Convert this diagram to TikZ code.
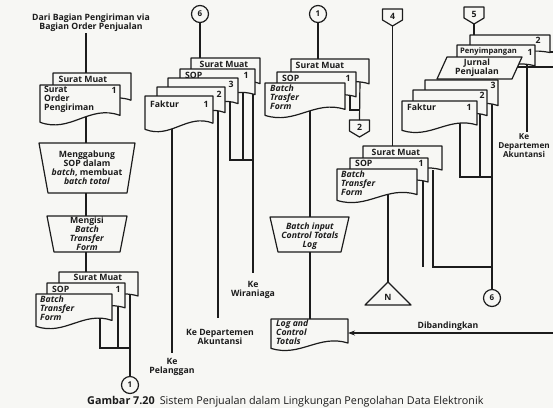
\documentclass[tikz,border=0pt]{standalone}
\usepackage{fontspec}
\setmainfont{Open Sans}
\usetikzlibrary{arrows.meta}

\definecolor{ink}{HTML}{1C1C1C}
\definecolor{paper}{HTML}{F7F7F4}

\tikzset{
  shp/.style={draw=ink, fill=paper, line width=1.2pt, line join=round},
  wire/.style={draw=ink, line width=1.2pt},
  lbl/.style={inner sep=0pt, text=ink, font=\fontsize{8.7}{9}\selectfont\bfseries},
  smalllbl/.style={inner sep=0pt, text=ink, font=\fontsize{7.6}{8}\selectfont\bfseries},
  conn/.style={circle, draw=ink, fill=paper, line width=1.2pt, minimum size=17pt,
    inner sep=0pt, text=ink, font=\fontsize{8}{9}\selectfont\bfseries},
}

% document symbol: top-left corner (x,y), width, height (y grows downwards)
\newcommand{\docsym}[4]{%
  \path[shp] (#1,#2) -- ({#1+#3},#2) -- ({#1+#3},{#2+0.8*#4})
    .. controls ({#1+0.62*#3},{#2+0.5*#4}) and ({#1+0.38*#3},{#2+1.28*#4})
    .. (#1,{#2+0.98*#4}) -- cycle;}
% off-page connector: name, centre x, top y, label
\newcommand{\offpage}[4]{%
  \path[shp] ({#2-10},#3) -- ({#2+10},#3) -- ({#2+10},{#3+11}) -- (#2,{#3+17})
    -- ({#2-10},{#3+11}) -- cycle;
  \node[lbl] (#1) at (#2,{#3+7}) {#4};
  \coordinate (#1-in) at (#2,#3);
  \coordinate (#1-out) at (#2,{#3+17});}

\begin{document}
\begin{tikzpicture}[x=1pt,y=-1pt]
\fill[paper] (0,0) rectangle (553,408);
\useasboundingbox (0,0) rectangle (553,408);

%% ---------- column 1: shipping documents and batching ----------
\node[lbl, align=center] (src) at (91,23) {Dari Bagian Pengiriman via\\Bagian Order Penjualan};
\coordinate (srcend) at (86,33);
\coordinate (a1in) at (86,73);
\draw[wire] (srcend) -- (a1in);
\docsym{53}{73}{78}{34}
\node[lbl] (a1b) at (83,79) {Surat Muat};
\coordinate (a1out) at (86,110);
\coordinate (m1in) at (86,143);
\draw[wire] (a1out) -- (m1in);
\docsym{40}{85}{80}{38}
\node[lbl, align=left, anchor=north west] (a1f) at (44,86) {Surat\\Order\\Pengiriman};
\node[lbl] (a1n) at (114,90) {1};

\path[shp] (39,143) -- (135,143) -- (127,193) -- (48,193) -- cycle;
\node[lbl, align=center] (m1) at (87,168) {Menggabung\\SOP dalam\\\textit{batch}, membuat\\\textit{batch total}};
\coordinate (m1out) at (86,193);
\coordinate (m2in) at (86,216);
\draw[wire] (m1out) -- (m2in);
\path[shp] (47,216) -- (127,216) -- (120,252) -- (54,252) -- cycle;
\node[lbl, align=center] (m2) at (87,234) {Mengisi\\\textit{Batch}\\\textit{Transfer}\\\textit{Form}};
\coordinate (m2out) at (86,252);
\coordinate (a2in) at (86,272);
\draw[wire] (m2out) -- (a2in);

% batch stack, bottom left
\node[conn] (k1a) at (130,385) {1};
\coordinate (a2c) at (130,292);
\draw[wire] (a2c) -- (k1a);
\docsym{59}{272}{79}{30}
\node[lbl] (a2ct) at (98,277) {Surat Muat};
\coordinate (a2b) at (118,303);
\coordinate (a2j) at (118,348);
\draw[wire] (a2b) -- (a2j);
\docsym{47}{283}{78}{31}
\node[lbl, anchor=west] (a2bt) at (52,289) {SOP};
\node[lbl] (a2bn) at (118,289) {1};
\coordinate (a2f) at (100,315);
\coordinate (a2k) at (130,348);
\draw[wire] (a2f) |- (a2k);
\docsym{36}{294}{76}{33}
\node[lbl, align=left, anchor=north west] (a2ft) at (40,296) {\textit{Batch}\\\textit{Transfer}\\\textit{Form}};

%% ---------- column 2: invoice set ----------
\node[conn] (k6a) at (200,14) {6};
\coordinate (b5in) at (200,58);
\draw[wire] (k6a) -- (b5in);
\coordinate (b5) at (253,80);
\coordinate (b5end) at (253,273);
\draw[wire] (b5) -- (b5end);
\docsym{191}{58}{69}{32}
\node[lbl] (b5t) at (224,64) {Surat Muat};
\coordinate (b4) at (243,90);
\coordinate (b4end) at (243,160);
\draw[wire] (b4) -- (b4end);
\docsym{180}{69}{75}{32}
\node[lbl, anchor=west] (b4t) at (185,75) {SOP};
\node[lbl] (b4n) at (246,75) {1};
\coordinate (b3) at (230,100);
\coordinate (b3end) at (253,160);
\draw[wire] (b3) |- (b3end);
\docsym{168}{78}{70}{32}
\node[lbl] (b3n) at (231,84) {3};
\coordinate (b2) at (218,108);
\coordinate (b2end) at (218,318);
\draw[wire] (b2) -- (b2end);
\docsym{157}{87}{68}{32}
\node[lbl] (b2n) at (219,94) {2};
\coordinate (b1) at (172,118);
\coordinate (b1end) at (172,353);
\draw[wire] (b1) -- (b1end);
\docsym{145}{96}{68}{34}
\node[lbl, anchor=west] (b1t) at (150,104) {Faktur};
\node[lbl] (b1n) at (206,104) {1};

\node[lbl, align=center] (kewir) at (253,290) {Ke\\Wiraniaga};
\node[lbl, align=center] (keakt) at (220,337) {Ke Departemen\\Akuntansi};
\node[lbl, align=center] (kepel) at (172,367) {Ke\\Pelanggan};

%% ---------- column 3: batch transfer to data processing ----------
\node[conn] (k1b) at (318,14) {1};
\coordinate (c3in) at (318,59);
\draw[wire] (k1b) -- (c3in);
\offpage{op2}{359.5}{120}{2}
\coordinate (c3) at (360,80);
\draw[wire] (c3) -- (op2-in);
\docsym{291}{59}{78}{31}
\node[lbl] (c3t) at (320,65) {Surat Muat};
\coordinate (c2) at (350,90);
\coordinate (c2end) at (360,110);
\draw[wire] (c2) |- (c2end);
\docsym{277}{72}{79}{31}
\node[lbl, anchor=west] (c2t) at (282,78) {SOP};
\node[lbl] (c2n) at (348,78) {1};
\coordinate (c1) at (310,100);
\coordinate (t3in) at (310,217);
\draw[wire] (c1) -- (t3in);
\docsym{265}{83}{80}{33}
\node[lbl, align=left, anchor=north west] (c1t) at (270,85) {\textit{Batch}\\\textit{Trasfer}\\\textit{Form}};

\path[shp] (270,217) -- (349,217) -- (341,252) -- (278,252) -- cycle;
\node[lbl, align=center] (t3) at (310,236) {\textit{Batch input}\\\textit{Control Totals}\\\textit{Log}};
\coordinate (t3out) at (310,252);
\coordinate (login) at (310,319);
\draw[wire] (t3out) -- (login);
\docsym{271}{319}{77}{30}
\node[lbl, align=left, anchor=north west] (logt) at (276,320) {\textit{Log and}\\\textit{Control}\\\textit{Totals}};
\coordinate (cmpR) at (556,333);
\coordinate (logR) at (348,333);
\draw[wire, -{Stealth[length=7pt,width=5pt]}] (cmpR) -- (logR);
\node[lbl] (cmp) at (448,326) {Dibandingkan};

%% ---------- column 4: returned batch ----------
\offpage{op4}{392.5}{9}{4}
\coordinate (e3in) at (392.5,146);
\draw[wire] (op4-out) -- (e3in);
\coordinate (e3) at (433,170);
\coordinate (e3end) at (493,267);
\draw[wire] (e3) |- (e3end);
\docsym{363}{146}{79}{30}
\node[lbl] (e3t) at (396,152) {Surat Muat};
\coordinate (e2) at (423,180);
\coordinate (e2end) at (423,267);
\draw[wire] (e2) -- (e2end);
\docsym{350}{158}{78}{30}
\node[lbl, anchor=west] (e2t) at (355,163) {SOP};
\node[lbl] (e2n) at (421,163) {1};
\coordinate (e1) at (388,190);
\coordinate (filein) at (388,283);
\draw[wire] (e1) -- (filein);
\docsym{337}{169}{80}{32}
\node[lbl, align=left, anchor=north west] (e1t) at (341,171) {\textit{Batch}\\\textit{Transfer}\\\textit{Form}};
\path[shp] (388,282) -- (411,305) -- (365,305) -- cycle;
\node[lbl] (fileN) at (388,297) {N};

%% ---------- column 5: sales journal and invoices ----------
\offpage{op5}{474}{7}{5}
\coordinate (d5in) at (474,35);
\draw[wire] (op5-out) -- (d5in);
\docsym{470}{35}{80}{22}
\node[lbl] (d5n) at (538,40) {2};
\coordinate (d5) at (550,52);
\coordinate (d5end) at (556,52);
\draw[wire] (d5) -- (d5end);
\coordinate (dp) at (527,60);
\coordinate (dpend) at (527,132);
\draw[wire] (dp) -- (dpend);
\docsym{457}{45}{78}{26}
\node[smalllbl, anchor=west] (dpt) at (460,52) {Penyimpangan};
\node[lbl] (dpn) at (530,52) {1};
\coordinate (dj) at (515,67);
\coordinate (djend) at (556,67);
\draw[wire] (dj) -- (djend);
\path[shp] (447,57) -- (522,57) -- (512,79) -- (437,79) -- cycle;
\node[lbl, align=center] (djt) at (477,68) {Jurnal\\Penjualan};
\node[lbl, align=center, font=\fontsize{8.2}{9}\selectfont\bfseries] (keakt2) at (524,146) {Ke\\Departemen\\Akuntansi};

\node[conn] (k6b) at (492,298) {6};
\coordinate (d3) at (492,100);
\draw[wire] (d3) -- (k6b);
\docsym{425}{80}{73}{32}
\node[lbl] (d3n) at (493,85) {3};
\coordinate (d2) at (480,110);
\coordinate (d2end) at (480,177);
\draw[wire] (d2) -- (d2end);
\docsym{413}{90}{74}{32}
\node[lbl] (d2n) at (482,95) {2};
\coordinate (d1) at (460,118);
\coordinate (d1end) at (492,177);
\draw[wire] (d1) |- (d1end);
\docsym{402}{101}{75}{30}
\node[lbl, anchor=west] (d1t) at (407,107) {Faktur};
\node[lbl] (d1n) at (469,107) {1};

%% ---------- caption ----------
\node[anchor=west, inner sep=0pt, text=ink, font=\fontsize{10.8}{12}\selectfont] (cap) at (87,402)
  {\textbf{Gambar 7.20}\hspace{5pt}Sistem Penjualan dalam Lingkungan Pengolahan Data Elektronik};
\end{tikzpicture}
\end{document}
